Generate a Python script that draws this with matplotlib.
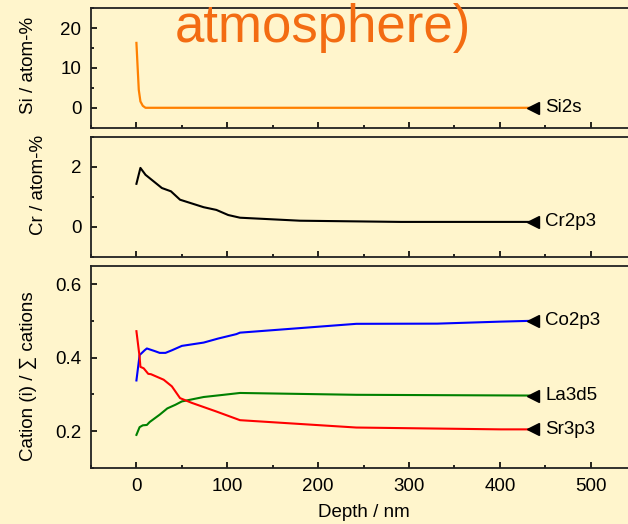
import numpy as np
import matplotlib
matplotlib.use('Agg')
import matplotlib.pyplot as plt
from matplotlib.ticker import MultipleLocator

plt.rcParams['font.family'] = ['Liberation Sans', 'DejaVu Sans']
plt.rcParams['font.size'] = 13.5

# data
si_x = [0, 1.3, 2.6, 4.4, 7, 10, 432]
si_y = [16.3, 10.3, 4.5, 1.6, 0.5, 0.0, 0.0]

cr_x = [0, 4.4, 10, 19, 28, 38, 48, 74, 88, 101, 114, 180, 291, 432]
cr_y = [1.43, 1.96, 1.73, 1.51, 1.29, 1.18, 0.90, 0.65, 0.56, 0.39, 0.30, 0.20, 0.16, 0.16]

co_x = [0, 3.5, 9, 11.5, 20, 25.6, 32, 39, 50, 74, 90, 110, 114, 242, 331, 401, 432]
co_y = [0.338, 0.407, 0.420, 0.425, 0.418, 0.413, 0.413, 0.420, 0.432, 0.441,
        0.452, 0.464, 0.468, 0.492, 0.4925, 0.498, 0.500]

la_x = [0, 3.5, 7, 11.5, 14.6, 25.6, 34, 43, 50, 74, 96, 114, 242, 432]
la_y = [0.190, 0.211, 0.216, 0.217, 0.225, 0.245, 0.262, 0.272, 0.281, 0.293,
        0.299, 0.304, 0.299, 0.297]

sr_x = [0, 3.5, 4.4, 8, 13, 16, 30, 39, 48, 61, 87.5, 114, 242, 401, 432]
sr_y = [0.472, 0.402, 0.375, 0.371, 0.356, 0.355, 0.340, 0.322, 0.290, 0.277,
        0.254, 0.230, 0.210, 0.205, 0.205]

tag_x = 437

bg = '#FFF5CC'
fig = plt.figure(figsize=(6.28, 5.24), dpi=100, facecolor=bg)

left, width = 0.1449, 0.868
ax1 = fig.add_axes([left, 0.7563, width, 0.2279])
ax2 = fig.add_axes([left, 0.5101, width, 0.2290])
ax3 = fig.add_axes([left, 0.1069, width, 0.3860])


def style(ax, labels):
    ax.set_facecolor(bg)
    ax.set_xlim(-50, 550)
    ax.xaxis.set_major_locator(MultipleLocator(100))
    ax.xaxis.set_minor_locator(MultipleLocator(50))
    ax.tick_params(which='both', direction='in', top=False, right=False, width=1.2)
    ax.tick_params(which='major', length=4.5, pad=7)
    ax.tick_params(which='minor', length=2.3)
    for s in ax.spines.values():
        s.set_linewidth(1.3)
        s.set_color('#222222')
    if not labels:
        ax.tick_params(axis='x', labelbottom=False)


def tag(ax, y, name):
    ax.plot([tag_x], [y], marker='<', color='black', markersize=9, linestyle='none')
    ax.text(tag_x + 13, y, name, va='center', ha='left')


# Si
style(ax1, False)
ax1.plot(si_x, si_y, color='#FF8000', lw=1.6)
ax1.set_ylim(-5, 25)
ax1.yaxis.set_major_locator(MultipleLocator(10))
ax1.yaxis.set_minor_locator(MultipleLocator(5))
ax1.set_ylabel('Si / atom-%')
ax1.yaxis.set_label_coords(-0.099, 0.525)
tag(ax1, si_y[-1], 'Si2s')

# Cr
style(ax2, False)
ax2.plot(cr_x, cr_y, color='black', lw=1.5)
ax2.set_ylim(-1, 3)
ax2.yaxis.set_major_locator(MultipleLocator(2))
ax2.yaxis.set_minor_locator(MultipleLocator(1))
ax2.set_ylabel('Cr / atom-%')
ax2.yaxis.set_label_coords(-0.081, 0.6)
tag(ax2, cr_y[-1], 'Cr2p3')

# cations
style(ax3, True)
ax3.plot(co_x, co_y, color='#0000FF', lw=1.5)
ax3.plot(la_x, la_y, color='#008000', lw=1.5)
ax3.plot(sr_x, sr_y, color='#FF0000', lw=1.5)
ax3.set_ylim(0.1, 0.65)
ax3.yaxis.set_major_locator(MultipleLocator(0.2))
ax3.yaxis.set_minor_locator(MultipleLocator(0.1))
ax3.set_ylabel('Cation (i) / \u2211 cations')
ax3.yaxis.set_label_coords(-0.099, 0.455)
ax3.set_xlabel('Depth / nm', labelpad=7)
tag(ax3, co_y[-1], 'Co2p3')
tag(ax3, la_y[-1], 'La3d5')
tag(ax3, sr_y[-1], 'Sr3p3')

fig.text(0.514, 0.920, 'atmosphere)', color='#F36C12', fontsize=38,
         ha='center', va='baseline')

fig.savefig('out.png', dpi=100, facecolor=bg)
